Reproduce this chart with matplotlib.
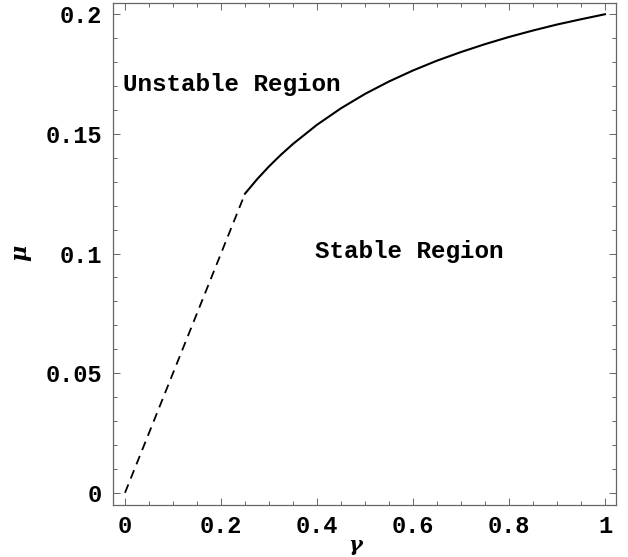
import matplotlib
matplotlib.use("Agg")
import matplotlib.pyplot as plt
from matplotlib.ticker import MultipleLocator, FixedLocator

# Data
gamma_dashed = [0.0, 0.25]
mu_dashed = [0.0, 0.125]

gamma_solid = [0.25, 0.275, 0.30, 0.325, 0.35, 0.40, 0.45, 0.50, 0.55, 0.60,
               0.65, 0.70, 0.75, 0.80, 0.85, 0.90, 0.95, 1.00]
mu_solid = [0.125, 0.1310, 0.1364, 0.1413, 0.1458, 0.1538, 0.1607, 0.1667, 0.1719, 0.1765,
            0.1806, 0.1842, 0.1875, 0.1905, 0.1932, 0.1957, 0.1979, 0.2000]

xticks = [0, 0.2, 0.4, 0.6, 0.8, 1.0]
xtick_labels = ["0", "0.2", "0.4", "0.6", "0.8", "1"]
yticks = [0, 0.05, 0.1, 0.15, 0.2]
ytick_labels = ["0", "0.05", "0.1", "0.15", "0.2"]

W, H = 628, 557
fig = plt.figure(figsize=(W / 100, H / 100), dpi=100)
# axes frame in pixels: left 113, right 616, top 3, bottom 505
ax = fig.add_axes([113 / W, 1 - 505 / H, (616 - 113) / W, (505 - 3) / H])

ax.plot(gamma_dashed, mu_dashed, color="black", lw=1.3, linestyle=(0, (5, 3.5)))
ax.plot(gamma_solid, mu_solid, color="black", lw=1.5)

ax.set_xlim(-0.025, 1.023)
ax.set_ylim(-0.0051, 0.2047)

font = dict(family=["Liberation Mono", "DejaVu Sans Mono"], weight="bold")
ax.xaxis.set_major_locator(FixedLocator(xticks))
ax.set_xticklabels(xtick_labels, fontsize=17, **font)
ax.yaxis.set_major_locator(FixedLocator(yticks))
ax.set_yticklabels(ytick_labels, fontsize=17, **font)
ax.xaxis.set_minor_locator(MultipleLocator(0.05))
ax.yaxis.set_minor_locator(MultipleLocator(0.01))

frame_c = "0.4"
for s in ax.spines.values():
    s.set_color(frame_c)
    s.set_linewidth(0.9)
ax.tick_params(which="both", direction="in", top=True, right=True, color=frame_c, width=0.7)
ax.tick_params(which="major", length=5, pad=8)
ax.tick_params(which="minor", length=3)
ax.tick_params(axis="x", which="major", pad=7)

ax.text(-0.004, 0.1706, "Unstable Region", fontsize=17.5, va="center", ha="left", **font)
ax.text(0.396, 0.1007, "Stable Region", fontsize=17.5, va="center", ha="left", **font)

fig.text(20 / W, 1 - 253 / H, "μ", fontsize=16, rotation=90, ha="center", va="center",
         family=["DejaVu Serif"], style="italic", weight="bold")
fig.text(355 / W, 1 - 545 / H, "γ", fontsize=15, ha="center", va="center",
         family=["DejaVu Serif"], style="italic", weight="bold")

fig.savefig("out.png", dpi=100, facecolor="white")
